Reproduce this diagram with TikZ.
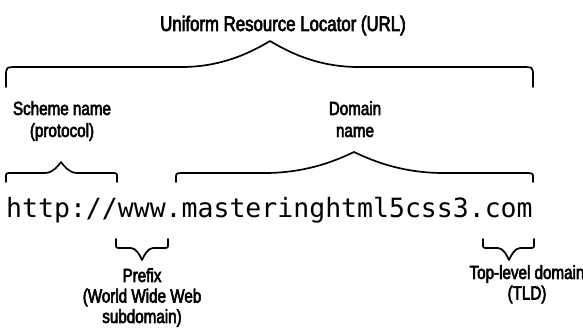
\documentclass[tikz,border=0pt]{standalone}
\usepackage{fontspec}
\newfontfamily\labelfont[FakeStretch=0.8,FakeBold=3]{Liberation Sans}
\newfontfamily\urlfont{DejaVu Sans Mono}
\begin{document}
\begin{tikzpicture}[x=1pt, y=-1pt]
            \tikzstyle{brace} = [line width=1.7pt, line cap=round, line join=round]
            \tikzstyle{heading} = [inner sep=0pt, font=\labelfont\fontsize{21}{24}\selectfont]
            \tikzstyle{upper} = [inner sep=0pt, align=center, anchor=north, font=\labelfont\fontsize{19}{22}\selectfont]
            \tikzstyle{lower} = [inner sep=0pt, align=center, anchor=north, font=\labelfont\fontsize{19}{20.5}\selectfont]
            \tikzstyle{address} = [inner sep=0pt, font=\urlfont\fontsize{26.5}{30}\selectfont]
            \useasboundingbox (0, 0) rectangle (583, 329);
            \node[heading, anchor=base] (locator) at (283, 31) {Uniform Resource Locator (URL)};
            \node[upper] (scheme) at (62, 101) {Scheme name\\(protocol)};
            \node[upper] (domain) at (355, 101) {Domain\\name};
            \node[address, anchor=base west] (link) at (6, 217) {http://www.masteringhtml5css3.com};
            \node[lower] (prefix) at (142, 268) {Prefix\\(World Wide Web\\subdomain)};
            \node[lower] (tld) at (527, 265) {Top-level domain\\(TLD)};
            \foreach \xa/\xb/\xt/\ye/\yh/\yt/\w/\r in {6/533/270/87/67/41/88/12, 6/117/61/182/173/162/16/6, 176/533/354/182/173/152/89/10, 116/168/142/239/248/260/11/5, 483/534/509/239/248/260/11/5}
                \draw[brace] (\xa, \ye) -- (\xa, {\yh + 0.45*(\ye - \yh)}) .. controls (\xa, \yh) .. ({\xa + \r}, \yh) -- ({\xt - \w}, \yh) .. controls ({\xt - 0.5*\w}, \yh) and ({\xt - 0.15*\w}, {\yt + 0.3*(\yh - \yt)}) .. (\xt, \yt) .. controls ({\xt + 0.15*\w}, {\yt + 0.3*(\yh - \yt)}) and ({\xt + 0.5*\w}, \yh) .. ({\xt + \w}, \yh) -- ({\xb - \r}, \yh) .. controls (\xb, \yh) .. (\xb, {\yh + 0.45*(\ye - \yh)}) -- (\xb, \ye);
\end{tikzpicture}
\end{document}
